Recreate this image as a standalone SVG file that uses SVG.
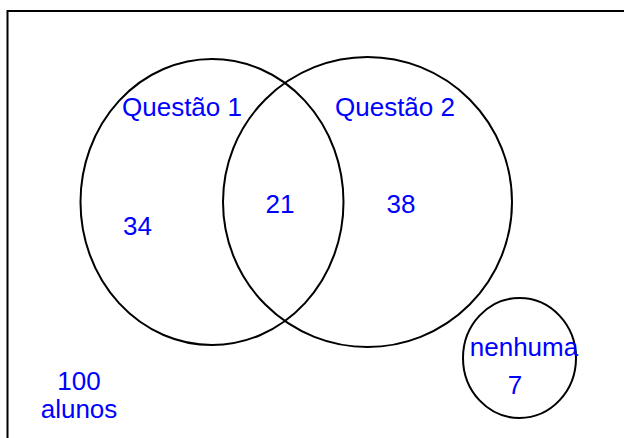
<svg xmlns="http://www.w3.org/2000/svg" width="624" height="438" viewBox="0 0 624 438">
<style>
.c{fill:none;stroke:#000;stroke-width:2}
.t{font-family:"Liberation Sans",Arial,sans-serif;font-size:26px;fill:#0000ff}
.m{text-anchor:middle}
</style>
<rect width="624" height="438" fill="#fff"/>
<g id="frame"><path d="M7.5,440 V11 H626" fill="none" stroke="#000" stroke-width="2"/></g>
<g id="q1"><ellipse class="c" cx="212" cy="202" rx="131.5" ry="143"/><text class="t" x="122" y="116">Questão 1</text></g>
<g id="q2"><ellipse class="c" cx="367.5" cy="202" rx="144.5" ry="145"/><text class="t" x="335" y="116">Questão 2</text></g>
<g id="n1"><text class="t m" x="137.5" y="235">34</text></g>
<g id="n12"><text class="t m" x="280" y="213">21</text></g>
<g id="n2"><text class="t m" x="401" y="213">38</text></g>
<g id="none"><ellipse class="c" cx="519.5" cy="358" rx="56.5" ry="60"/><text class="t m" x="524" y="356">nenhuma</text><text class="t m" x="515" y="394">7</text></g>
<g id="total"><text class="t m" x="79" y="390">100</text><text class="t m" x="79" y="418">alunos</text></g>
<g id="connectors"/>
</svg>
